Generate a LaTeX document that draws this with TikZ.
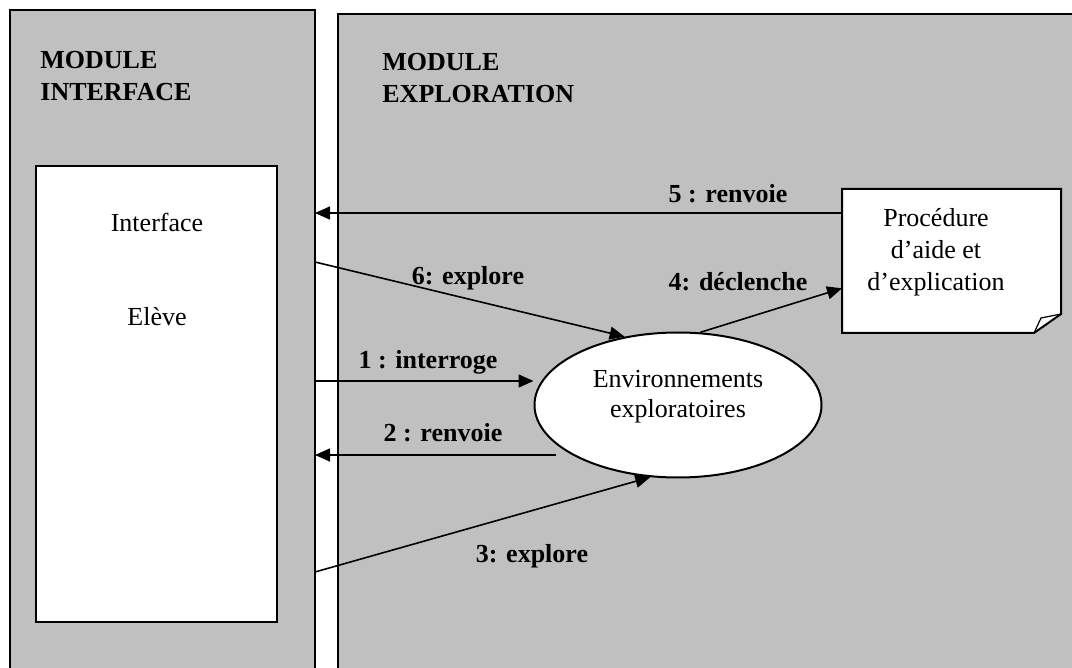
\documentclass[tikz,border=0pt]{standalone}
\usepackage{fontspec}
\setmainfont{Liberation Serif}
\usetikzlibrary{arrows.meta,shapes.geometric}

\definecolor{panelgray}{RGB}{192,192,192}

\tikzset{
  panel/.style={draw=black, line width=1pt, fill=panelgray},
  whitebox/.style={draw=black, line width=1pt, fill=white, inner sep=0pt},
  title/.style={anchor=west, align=left, inner sep=0pt, font=\fontsize{13}{16}\selectfont\bfseries},
  lbl/.style={font=\fontsize{13}{16}\selectfont\bfseries, text height=9pt, text depth=3pt, inner sep=0pt},
  txt/.style={align=center, font=\fontsize{13}{16}\selectfont},
  link/.style={-{Triangle[length=7.5pt,width=6.5pt]}, line width=0.8pt},
}

\begin{document}
\begin{tikzpicture}[x=0.5pt, y=-0.5pt]
    % Frame of the picture
    \useasboundingbox (0,0) rectangle (1072,668);
    \clip (0,0) rectangle (1072,668);

    % The two modules
    \draw[panel] (10,10) rectangle (315,700);
    \draw[panel] (338,14) rectangle (1090,700);
    \node[title] (tint) at (40,76) {MODULE\\INTERFACE};
    \node[title] (texp) at (382,78) {MODULE\\EXPLORATION};

    % Student interface
    \node[whitebox, minimum width=120.5pt, minimum height=228pt] (ibox) at (156.5,394) {};
    \node[txt] (iface) at (157,222) {Interface};
    \node[txt] (eleve) at (157,317) {Elève};

    % Exploratory environments
    \node[ellipse, whitebox, minimum width=143.5pt, minimum height=72.5pt] (env) at (678,405) {};
    \node[txt, font=\fontsize{13}{15}\selectfont] (envtxt) at (678,397) {Environnements\\exploratoires};

    % Help procedure (note with folded corner)
    \node[fill=white, inner sep=0pt, outer sep=0.5pt, minimum width=108.5pt, minimum height=71pt] (proc) at (951.5,261) {};
    \fill[panelgray] ([yshift=9.5pt]proc.south east) -- (proc.south east) -- ([xshift=-13.5pt]proc.south east) -- cycle;
    \draw[line width=1pt] (proc.north west) -- (proc.north east) -- ([yshift=9.5pt]proc.south east)
        -- ([xshift=-13.5pt]proc.south east) -- (proc.south west) -- cycle;
    \draw[line width=0.6pt] ([yshift=9.5pt]proc.south east) -- ([xshift=-10pt,yshift=7.5pt]proc.south east)
        -- ([xshift=-13.5pt]proc.south east);
    \node[txt] (proctxt) at (936,252) {Procédure\\d'aide et\\d'explication};

    % Ends on the edge of the interface module
    \coordinate (l5) at (315,213);
    \coordinate (l6) at (315,262);
    \coordinate (l1) at (315,381);
    \coordinate (l2) at (315,455);
    \coordinate (l3) at (315,572);
    \coordinate (r2) at (556,455);

    % Exchanges
    \draw[link] (l1) -- (l1 -| env.west);
    \node[lbl] (m1) at (428,363) {1 : interroge};
    \draw[link] (r2) -- (l2);
    \node[lbl] (m2) at (443,436) {2 : renvoie};
    \draw[link] (l3) -- (env.249);
    \node[lbl] (m3) at (532,556) {3: explore};
    \draw[link] (env.73) -- (proc.194);
    \node[lbl] (m4) at (738,285) {4: déclenche};
    \draw[link] (proc.west |- l5) -- (l5);
    \node[lbl] (m5) at (728,197) {5 : renvoie};
    \draw[link] (l6) -- (env.128);
    \node[lbl] (m6) at (468,279) {6: explore};
\end{tikzpicture}
\end{document}
